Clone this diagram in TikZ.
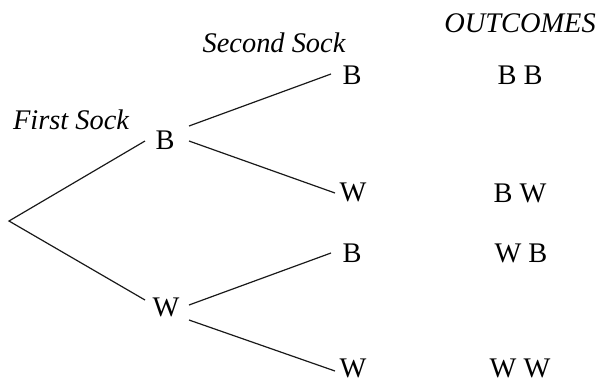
\documentclass[tikz,border=0pt]{standalone}
\usepackage{fontspec}
\setmainfont{Liberation Serif}
\begin{document}
\begin{tikzpicture}[x=1bp,y=-1bp,
  lbl/.style={inner sep=0pt,font=\fontsize{28.5}{32}\selectfont,text height=18.8bp,text depth=0pt},
  hdr/.style={inner sep=0pt,font=\fontsize{28.5}{32}\selectfont\itshape,text height=18.8bp,text depth=0pt},
  branch/.style={line width=1.2bp,black!90}]
\useasboundingbox (0,0) rectangle (601,381);
\coordinate (root) at (9,221);
\node[lbl] (B1) at (165,140) {B};
\node[lbl] (W1) at (166,307) {W};
\node[lbl] (B2) at (352,75) {B};
\node[lbl] (W2) at (353,192) {W};
\node[lbl] (B3) at (352,253) {B};
\node[lbl] (W3) at (353,368) {W};
\node[lbl] (BB) at (520,75) {B B};
\node[lbl] (BW) at (520,193) {B W};
\node[lbl] (WB) at (521,253) {W B};
\node[lbl] (WW) at (520,368) {W W};
\node[hdr] (first) at (71,120) {First Sock};
\node[hdr] (second) at (274,43) {Second Sock};
\node[hdr] (outc) at (520,23) {OUTCOMES};
\draw[branch] ([shift={(-20,1)}]B1.center) -- (root) -- ([shift={(-21,-7)}]W1.center);
\draw[branch] ([shift={(24,-14)}]B1.center) -- ([shift={(-21,-1)}]B2.center);
\draw[branch] ([shift={(24,1)}]B1.center) -- ([shift={(-18,1)}]W2.center);
\draw[branch] ([shift={(23,-2)}]W1.center) -- ([shift={(-21,0)}]B3.center);
\draw[branch] ([shift={(23,13)}]W1.center) -- ([shift={(-18,3)}]W3.center);
\end{tikzpicture}
\end{document}
